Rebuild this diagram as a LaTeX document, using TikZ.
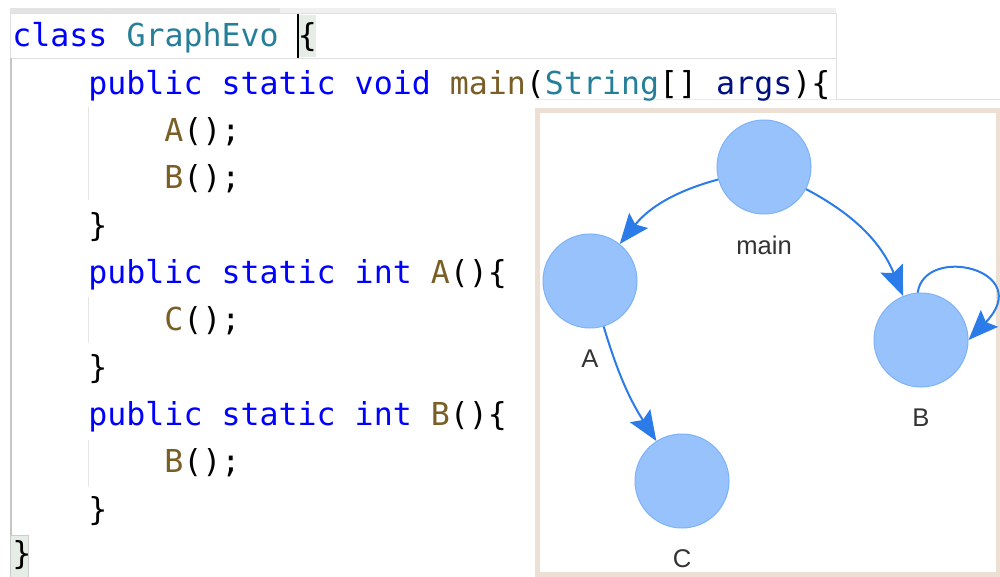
\documentclass[tikz,border=0pt]{standalone}
\usepackage{xcolor}
\usepackage{fontspec}
\usepackage{tikz}
\usetikzlibrary{arrows.meta,positioning}
\newfontfamily\codefont{DejaVu Sans Mono}
\newfontfamily\labfont{Liberation Sans}
\definecolor{kwblue}{HTML}{0000FF}
\definecolor{tyteal}{HTML}{267F99}
\definecolor{fnbrown}{HTML}{795E26}
\definecolor{varnavy}{HTML}{001080}
\definecolor{nodefill}{HTML}{97C2FC}
\definecolor{nodeline}{HTML}{7DB2F8}
\definecolor{edgeblue}{HTML}{2B7CE9}
\definecolor{panelbeige}{HTML}{EEDFD5}
\definecolor{bracehl}{HTML}{E6EDE6}
\newcommand{\codekw}[1]{\textcolor{kwblue}{#1}}
\newcommand{\codety}[1]{\textcolor{tyteal}{#1}}
\newcommand{\codefn}[1]{\textcolor{fnbrown}{#1}}
\newcommand{\codevar}[1]{\textcolor{varnavy}{#1}}

\begin{document}
\begin{tikzpicture}[x=0.5pt,y=0.5pt,
  code/.style={anchor=base west,inner sep=0pt,text=black,font=\codefont\fontsize{15.8pt}{18pt}\selectfont},
  fnode/.style={circle,minimum size=47pt,inner sep=0pt,fill=nodefill,draw=nodeline,line width=0.5pt},
  lab/.style={inner sep=0pt,text=black!80,font=\labfont\fontsize{12.8pt}{15pt}\selectfont},
  call/.style={draw=edgeblue,line width=1pt,-{Stealth[length=15pt,width=12pt,inset=2.5pt]}}]
\useasboundingbox (0,0) rectangle (1000,-577);

% editor
\fill[gray!12] (10,-8) rectangle (836,-13);
\fill[gray!22] (10,-8) rectangle (280,-13);
\draw[gray!25] (10,-13) rectangle (836,-58);
\draw[gray!25] (836,-13) -- (836,-99) -- (1000,-99);
\draw[gray!15] (535,-99) -- (836,-99);
\fill[bracehl] (297,-15) rectangle (316,-57);
\draw[line width=1pt] (297.5,-14) -- (297.5,-58);
\draw[gray!45,line width=1pt] (11,-58) -- (11,-535);
\filldraw[fill=bracehl,draw=gray!40] (10,-535) rectangle (28,-577);
\draw[gray!20] (88,-107) -- (88,-200);
\draw[gray!20] (88,-297) -- (88,-343);
\draw[gray!20] (88,-440) -- (88,-487);

\node[code] (l1) at (12,-47) {\codekw{class} \codety{GraphEvo} \{};
\node[code] (l2) at (88,-94.3) {\codekw{public static void} \codefn{main}(\codety{String}[] \codevar{args})\{};
\node[code] (l3) at (164,-141.6) {\codefn{A}();};
\node[code] (l4) at (164,-188.9) {\codefn{B}();};
\node[code] (l5) at (88,-236.2) {\}};
\node[code] (l6) at (88,-283.5) {\codekw{public static int} \codefn{A}()\{};
\node[code] (l7) at (164,-330.8) {\codefn{C}();};
\node[code] (l8) at (88,-378.1) {\}};
\node[code] (l9) at (88,-425.4) {\codekw{public static int} \codefn{B}()\{};
\node[code] (l10) at (164,-472.7) {\codefn{B}();};
\node[code] (l11) at (88,-520) {\}};
\node[code] (l12) at (12,-564) {\}};

% call graph
\filldraw[fill=white,draw=panelbeige,line width=2.5pt] (537.5,-110.5) rectangle (998.5,-574.5);
\node[fnode] (main) at (764,-167) {};
\node[fnode] (A) at (590,-281) {};
\node[fnode] (B) at (921,-340) {};
\node[fnode] (C) at (682,-481) {};
\node[lab,below=10.3pt of main] (mainlab) {main};
\node[lab,below=10.3pt of A] (Alab) {A};
\node[lab,below=10.3pt of B] (Blab) {B};
\node[lab,below=10.3pt of C] (Clab) {C};

\draw[call] (main) to[bend right=18] (A);
\draw[call] (main) to[bend left=20] (B);
\draw[call] (A) to[bend right=8] (C);
\draw[call] (B.94) .. controls +(7,49) and +(68,70) .. (B.0);
\end{tikzpicture}
\end{document}
